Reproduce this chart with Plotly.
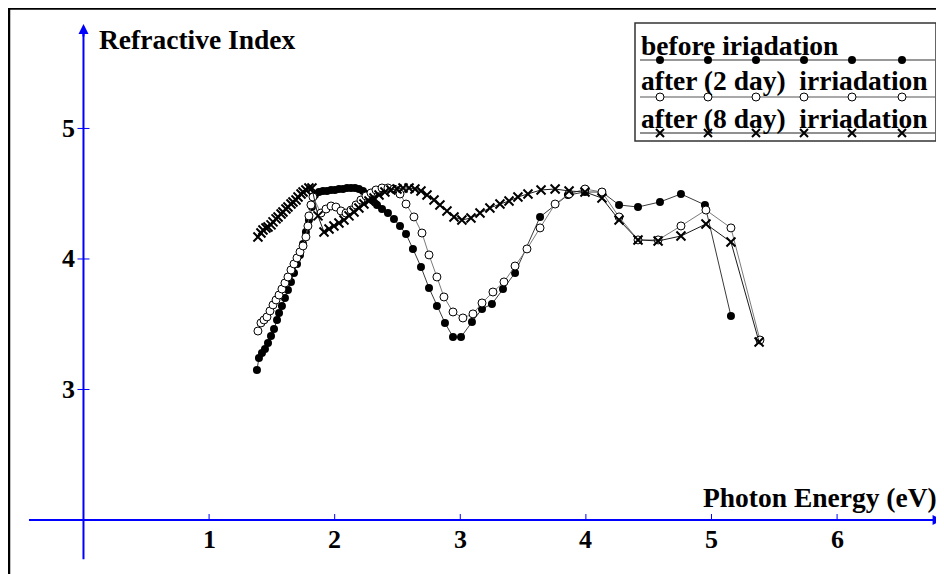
import plotly.graph_objects as go

# ---------------- data ----------------
before_E = [1.381, 1.397, 1.421, 1.445, 1.469, 1.493, 1.517, 1.541, 1.557, 1.580, 1.604, 1.628, 1.652, 1.676,
            1.700, 1.724, 1.748, 1.771, 1.795, 1.819, 1.843, 1.875, 1.907, 1.939, 1.971, 2.002, 2.034, 2.066,
            2.098, 2.130, 2.162, 2.193, 2.225, 2.257, 2.297, 2.337, 2.377, 2.424, 2.472, 2.520, 2.568, 2.623,
            2.687, 2.751, 2.814, 2.878, 2.942, 3.006, 3.093, 3.173, 3.252, 3.340, 3.436, 3.635, 3.857, 3.993,
            4.128, 4.264, 4.415, 4.590, 4.757, 4.948, 5.155]
before_n = [3.149, 3.241, 3.280, 3.310, 3.356, 3.410, 3.464, 3.533, 3.586, 3.640, 3.701, 3.762, 3.824, 3.893,
            3.962, 4.031, 4.115, 4.207, 4.299, 4.398, 4.490, 4.513, 4.521, 4.521, 4.529, 4.529, 4.536, 4.536,
            4.544, 4.544, 4.544, 4.536, 4.521, 4.498, 4.452, 4.414, 4.383, 4.352, 4.307, 4.253, 4.192, 4.077,
            3.939, 3.778, 3.640, 3.510, 3.402, 3.402, 3.517, 3.617, 3.655, 3.770, 3.893, 4.322, 4.490, 4.513,
            4.513, 4.414, 4.398, 4.437, 4.498, 4.414, 3.563]

day2_E = [1.389, 1.413, 1.437, 1.461, 1.485, 1.509, 1.533, 1.557, 1.580, 1.604, 1.628, 1.652, 1.676, 1.700,
          1.724, 1.748, 1.771, 1.787, 1.795, 1.811, 1.827, 1.891, 1.931, 1.971, 2.010, 2.050, 2.090, 2.130,
          2.170, 2.209, 2.249, 2.289, 2.329, 2.377, 2.424, 2.472, 2.520, 2.568, 2.631, 2.695, 2.751, 2.814,
          2.870, 2.942, 3.021, 3.101, 3.173, 3.260, 3.348, 3.436, 3.531, 3.635, 3.755, 3.866, 3.993, 4.128,
          4.264, 4.415, 4.575, 4.757, 4.956, 5.155, 5.386]
day2_n = [3.448, 3.510, 3.533, 3.556, 3.602, 3.648, 3.686, 3.724, 3.770, 3.816, 3.862, 3.916, 3.962, 4.008,
          4.054, 4.100, 4.169, 4.253, 4.330, 4.414, 4.475, 4.352, 4.383, 4.406, 4.398, 4.368, 4.352, 4.375,
          4.414, 4.452, 4.483, 4.506, 4.529, 4.544, 4.544, 4.536, 4.498, 4.421, 4.322, 4.199, 4.031, 3.862,
          3.709, 3.594, 3.548, 3.579, 3.663, 3.747, 3.824, 3.946, 4.077, 4.238, 4.421, 4.498, 4.536, 4.513,
          4.322, 4.146, 4.146, 4.253, 4.375, 4.238, 3.379]

day8_E = [1.389, 1.413, 1.429, 1.453, 1.469, 1.493, 1.509, 1.533, 1.549, 1.573, 1.588, 1.612, 1.628, 1.652,
          1.668, 1.692, 1.708, 1.732, 1.748, 1.771, 1.795, 1.819, 1.867, 1.915, 1.955, 1.994, 2.034, 2.074,
          2.114, 2.154, 2.193, 2.233, 2.273, 2.313, 2.353, 2.400, 2.448, 2.496, 2.544, 2.592, 2.639, 2.687,
          2.735, 2.791, 2.838, 2.894, 2.950, 3.013, 3.085, 3.157, 3.236, 3.316, 3.388, 3.459, 3.539, 3.643,
          3.755, 3.866, 3.993, 4.128, 4.264, 4.415, 4.575, 4.757, 4.956, 5.155, 5.379]
day8_n = [4.169, 4.199, 4.222, 4.238, 4.245, 4.261, 4.284, 4.307, 4.322, 4.345, 4.360, 4.383, 4.398, 4.421,
          4.437, 4.452, 4.475, 4.498, 4.513, 4.529, 4.544, 4.544, 4.330, 4.207, 4.230, 4.253, 4.276, 4.299,
          4.330, 4.360, 4.391, 4.421, 4.444, 4.467, 4.490, 4.513, 4.529, 4.536, 4.544, 4.544, 4.536, 4.521,
          4.490, 4.452, 4.414, 4.368, 4.322, 4.299, 4.314, 4.352, 4.391, 4.421, 4.444, 4.475, 4.498, 4.529,
          4.536, 4.521, 4.513, 4.467, 4.299, 4.146, 4.138, 4.176, 4.268, 4.130, 3.364]

x_ticks = [1, 2, 3, 4, 5, 6]
y_ticks = [3, 4, 5]
series_names = ["before iriadation", "after (2 day)&nbsp;&nbsp;irriadation", "after (8 day)&nbsp;&nbsp;irriadation"]

# ---------------- figure ----------------
W, H = 944, 574
OFF = 8  # the page body margin shifts the figure by 8 px
X_RANGE = [-0.601, 6.915]
Y_RANGE = [1.525, 5.923]
FONT = "Liberation Serif, Times New Roman, serif"
BLUE = "#0000ff"

fig = go.Figure()

fig.add_trace(go.Scatter(x=before_E, y=before_n, mode="lines+markers",
                         line=dict(color="#3a3a3a", width=1),
                         marker=dict(symbol="circle", size=8, color="black"),
                         showlegend=False))
fig.add_trace(go.Scatter(x=day2_E, y=day2_n, mode="lines+markers",
                         line=dict(color="#7a7a7a", width=1),
                         marker=dict(symbol="circle", size=8, color="white",
                                     line=dict(color="black", width=1)),
                         showlegend=False))
fig.add_trace(go.Scatter(x=day8_E, y=day8_n, mode="lines+markers",
                         line=dict(color="#1a1a1a", width=1),
                         marker=dict(symbol="x-thin", size=9,
                                     line=dict(color="black", width=2)),
                         showlegend=False))

def px2paper(px, py):
    return (px - OFF) / W, 1 - (py - OFF) / H

shapes = []
annotations = []

# outer frame (left, top, right edges)
fx0, fy0 = px2paper(9, 8)
fx1, _ = px2paper(939, 8)
shapes.append(dict(type="line", xref="paper", yref="paper", x0=fx0, x1=fx0, y0=-0.05, y1=fy0,
                   line=dict(color="black", width=2.5)))
shapes.append(dict(type="line", xref="paper", yref="paper", x0=fx0, x1=fx1, y0=fy0 - 0.001, y1=fy0 - 0.001,
                   line=dict(color="black", width=2.5)))
shapes.append(dict(type="line", xref="paper", yref="paper", x0=fx1, x1=fx1, y0=-0.05, y1=fy0,
                   line=dict(color="black", width=2)))

# axes (blue) crossing at (0, 2)
shapes.append(dict(type="line", xref="x", yref="y", x0=-0.434, x1=6.80, y0=2, y1=2,
                   line=dict(color=BLUE, width=2)))
shapes.append(dict(type="line", xref="x", yref="y", x0=0, x1=0, y0=1.70, y1=5.76,
                   line=dict(color=BLUE, width=2)))
annotations.append(dict(x=6.84, y=2, xref="x", yref="y", ax=-14, ay=0, text="",
                        showarrow=True, arrowhead=2, arrowsize=1, arrowwidth=2, arrowcolor=BLUE))
annotations.append(dict(x=0, y=5.80, xref="x", yref="y", ax=0, ay=14, text="",
                        showarrow=True, arrowhead=2, arrowsize=1, arrowwidth=2, arrowcolor=BLUE))

# ticks and tick labels
for t in x_ticks:
    shapes.append(dict(type="line", xref="x", yref="y", x0=t, x1=t, y0=2, y1=2 + 6 / 130.5,
                       line=dict(color=BLUE, width=1)))
    annotations.append(dict(x=t, y=2 - 19 / 130.5, xref="x", yref="y", text="<b>%d</b>" % t,
                            showarrow=False, xanchor="center", yanchor="middle",
                            font=dict(family=FONT, size=26, color="black")))
for t in y_ticks:
    shapes.append(dict(type="line", xref="x", yref="y", x0=-6 / 125.6, x1=6 / 125.6, y0=t, y1=t,
                       line=dict(color=BLUE, width=1)))
    annotations.append(dict(x=-6 / 125.6, y=t, xref="x", yref="y", text="<b>%d</b>" % t,
                            showarrow=False, xanchor="right", yanchor="middle",
                            font=dict(family=FONT, size=26, color="black")))

# axis titles
xp, yp = px2paper(97, 40)
annotations.append(dict(x=xp, y=yp, xref="paper", yref="paper", text="<b>Refractive Index</b>",
                        showarrow=False, xanchor="left", yanchor="middle",
                        font=dict(family=FONT, size=27.5, color="black")))
xp, yp = px2paper(939, 497)
annotations.append(dict(x=xp, y=yp, xref="paper", yref="paper", text="<b>Photon Energy (eV)</b>",
                        showarrow=False, xanchor="right", yanchor="middle",
                        font=dict(family=FONT, size=27.5, color="black")))

# custom legend box
bx0, by0 = px2paper(635, 141)
bx1, by1 = px2paper(936, 23)
shapes.append(dict(type="rect", xref="paper", yref="paper", x0=bx0, x1=bx1, y0=by0, y1=by1,
                   line=dict(color="#333333", width=1.5), fillcolor="white", layer="below"))

legend_text_y = [45, 81, 119]
legend_line_y = [60, 97, 133]
legend_marker_x = [660, 708, 756, 804, 852, 902]
styles = [
    dict(symbol="circle", size=8, color="black"),
    dict(symbol="circle", size=8, color="white", line=dict(color="black", width=1)),
    dict(symbol="x-thin", size=8, line=dict(color="black", width=2)),
]
line_cols = ["#333333", "#555555", "#222222"]
for i in range(3):
    xp, yp = px2paper(639, legend_text_y[i])
    annotations.append(dict(x=xp, y=yp, xref="paper", yref="paper", text="<b>%s</b>" % series_names[i],
                            showarrow=False, xanchor="left", yanchor="middle",
                            font=dict(family=FONT, size=27.5, color="black")))
    xs = [640] + legend_marker_x + [935]
    fig.add_trace(go.Scatter(x=[v - OFF for v in xs],
                             y=[legend_line_y[i] - OFF] * len(xs),
                             mode="lines", line=dict(color=line_cols[i], width=1.2),
                             xaxis="x2", yaxis="y2", showlegend=False, hoverinfo="skip"))
    fig.add_trace(go.Scatter(x=[v - OFF for v in legend_marker_x],
                             y=[legend_line_y[i] - OFF] * len(legend_marker_x),
                             mode="markers", marker=styles[i],
                             xaxis="x2", yaxis="y2", showlegend=False, hoverinfo="skip"))

fig.update_layout(
    width=W, height=H,
    margin=dict(l=0, r=0, t=0, b=0),
    paper_bgcolor="white", plot_bgcolor="rgba(0,0,0,0)",
    showlegend=False,
    xaxis=dict(range=X_RANGE, visible=False, showgrid=False, zeroline=False, domain=[0, 1]),
    yaxis=dict(range=Y_RANGE, visible=False, showgrid=False, zeroline=False, domain=[0, 1]),
    xaxis2=dict(range=[0, W], visible=False, overlaying="x", domain=[0, 1], anchor="y2"),
    yaxis2=dict(range=[H, 0], visible=False, overlaying="y", domain=[0, 1], anchor="x2"),
    shapes=shapes,
    annotations=annotations,
)

fig.write_html("out.html")
